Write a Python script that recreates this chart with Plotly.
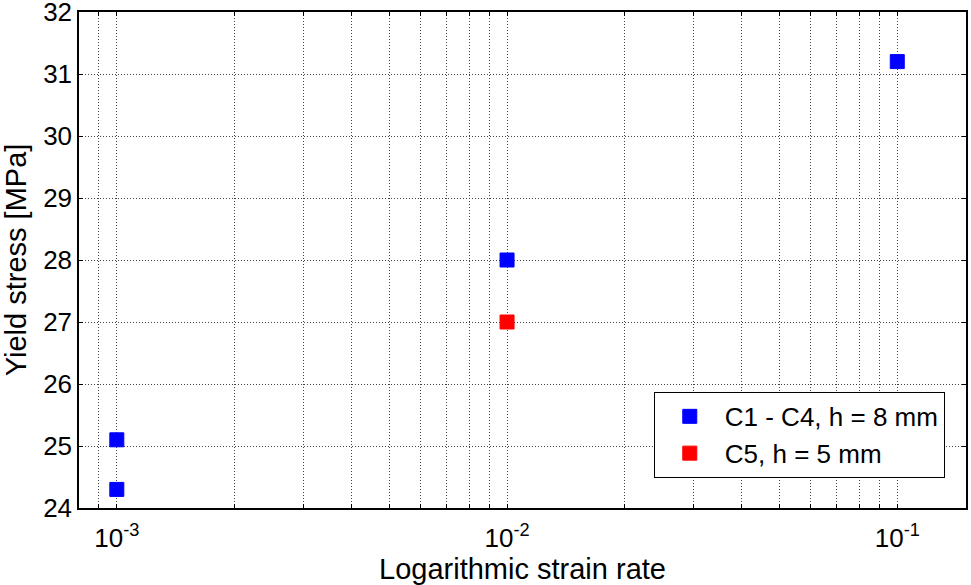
import plotly.graph_objects as go
import numpy as np

# Data
series1_name = "C1 - C4, h = 8 mm"
series1_x = [0.001, 0.001, 0.01, 0.1]
series1_y = [25.1, 24.3, 28.0, 31.2]

series2_name = "C5, h = 5 mm"
series2_x = [0.01]
series2_y = [27.0]

x_decades = [1e-4, 1e-3, 1e-2, 1e-1]
x_major_labels = {1e-3: "10<sup>-3</sup>", 1e-2: "10<sup>-2</sup>", 1e-1: "10<sup>-1</sup>"}
y_ticks = [24, 25, 26, 27, 28, 29, 30, 31, 32]

x_range = [0.0008, 0.15]
y_range = [24, 32]

# Build log tick positions (1..9 per decade) inside range
tickvals, ticktext = [], []
for d in x_decades:
    for m in range(1, 10):
        v = round(m * d, 12)
        if x_range[0] <= v <= x_range[1]:
            tickvals.append(v)
            lab = ""
            for k, t in x_major_labels.items():
                if abs(v - k) / k < 1e-9:
                    lab = t
            ticktext.append(lab)

font_family = "Liberation Sans, Arial, sans-serif"

fig = go.Figure()
fig.add_trace(go.Scatter(
    x=series1_x, y=series1_y, mode="markers", name=series1_name,
    marker=dict(symbol="square", size=14, color="#0000ff",
                line=dict(color="#0000ff", width=1)),
))
fig.add_trace(go.Scatter(
    x=series2_x, y=series2_y, mode="markers", name=series2_name,
    marker=dict(symbol="square", size=14, color="#ff0000",
                line=dict(color="#ff0000", width=1)),
))

axis_common = dict(
    showline=True, linecolor="black", linewidth=1.5, mirror="ticks",
    ticks="inside", ticklen=4, tickcolor="black",
    showgrid=True, gridcolor="#444444", griddash="1px,2px", gridwidth=1,
    zeroline=False, automargin=False, ticklabeloverflow="allow",
    tickfont=dict(family=font_family, size=26, color="black"),
)

fig.update_xaxes(
    type="log", range=[np.log10(x_range[0]), np.log10(x_range[1])],
    tickmode="array", tickvals=tickvals, ticktext=ticktext,
    ticklabelstandoff=6,
    title=dict(text="Logarithmic strain rate",
               font=dict(family=font_family, size=29, color="black"), standoff=2),
    **axis_common,
)
fig.update_yaxes(
    range=y_range, tickmode="array", tickvals=y_ticks,
    title=dict(text="Yield stress [MPa]",
               font=dict(family=font_family, size=29, color="black"), standoff=11),
    **axis_common,
)

fig.update_layout(
    width=971, height=585,
    margin=dict(l=79, r=5, t=12, b=77),
    paper_bgcolor="white", plot_bgcolor="white",
    showlegend=True,
    legend=dict(
        x=0.648, y=0.234, xanchor="left", yanchor="top",
        bgcolor="white", bordercolor="black", borderwidth=1,
        font=dict(family=font_family, size=26, color="black"),
        itemwidth=60, tracegroupgap=0,
    ),
)

fig.write_html("out.html", config={"displayModeBar": False},
               post_script="document.body.style.margin='0';")
